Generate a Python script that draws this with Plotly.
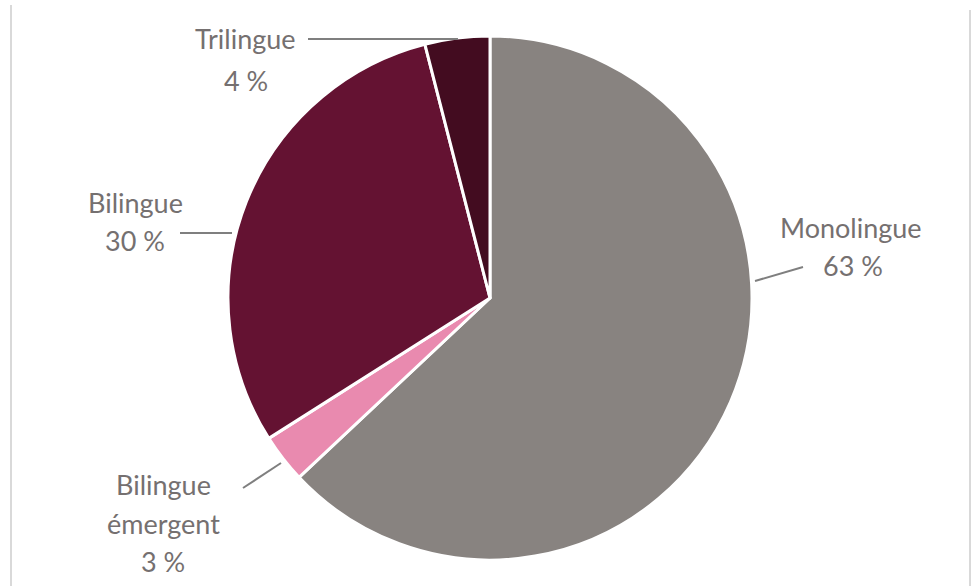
import plotly.graph_objects as go

# ---- data ----
categories = ["Monolingue", "Bilingue émergent", "Bilingue", "Trilingue"]
values = [63, 3, 30, 4]
label_lines = [["Monolingue", "63 %"], ["Bilingue", "émergent", "3 %"], ["Bilingue", "30 %"], ["Trilingue", "4 %"]]

# ---- style ----
colors = ["#888380", "#E98AAF", "#641232", "#430C20"]
W, H = 975, 586
TEXT_COLOR = "#757070"
FONT = "Lato"
FS = 27

# label layout (pixel positions of each text line centre)
label_pos = [
    [(851, 227), (853, 265)],
    [(163, 484), (163, 523), (163, 561)],
    [(135, 202), (135, 240)],
    [(246, 39), (246, 80)],
]
# leader lines (label end -> pie edge), pixels
leaders = [
    ((803, 267), (755, 281)),
    ((243, 488), (281, 463)),
    ((180, 233), (232, 233)),
    ((308, 39), (458, 39)),
]

def px(x, y):
    return x / W, 1 - y / H

fig = go.Figure(go.Pie(
    labels=categories,
    values=values,
    sort=False,
    direction="clockwise",
    rotation=0,
    marker=dict(colors=colors, line=dict(color="white", width=3)),
    textinfo="none",
    hoverinfo="label+percent",
    domain=dict(x=[228 / W, 752 / W], y=[1 - 560 / H, 1 - 36 / H]),
    showlegend=False,
))

annotations = []
for lines, poss in zip(label_lines, label_pos):
    for t, (x, y) in zip(lines, poss):
        ax, ay = px(x, y)
        annotations.append(dict(x=ax, y=ay, xref="paper", yref="paper", text=t,
                                showarrow=False, xanchor="center", yanchor="middle",
                                font=dict(family=FONT, size=FS, color=TEXT_COLOR)))

shapes = []
for (p0, p1) in leaders:
    x0, y0 = px(*p0)
    x1, y1 = px(*p1)
    shapes.append(dict(type="line", xref="paper", yref="paper", x0=x0, y0=y0, x1=x1, y1=y1,
                       line=dict(color="#7F7F7F", width=2)))
# chart frame (left / right edges)
for xb, ytop in [(11, 5), (970, 10)]:
    x0, y0 = px(xb, ytop)
    shapes.append(dict(type="line", xref="paper", yref="paper", x0=x0, y0=y0, x1=x0, y1=0,
                       line=dict(color="#D9D9D9", width=2)))

fig.update_layout(
    width=W, height=H,
    margin=dict(l=0, r=0, t=0, b=0),
    paper_bgcolor="white", plot_bgcolor="white",
    annotations=annotations, shapes=shapes,
)
fig.write_html("out.html")
